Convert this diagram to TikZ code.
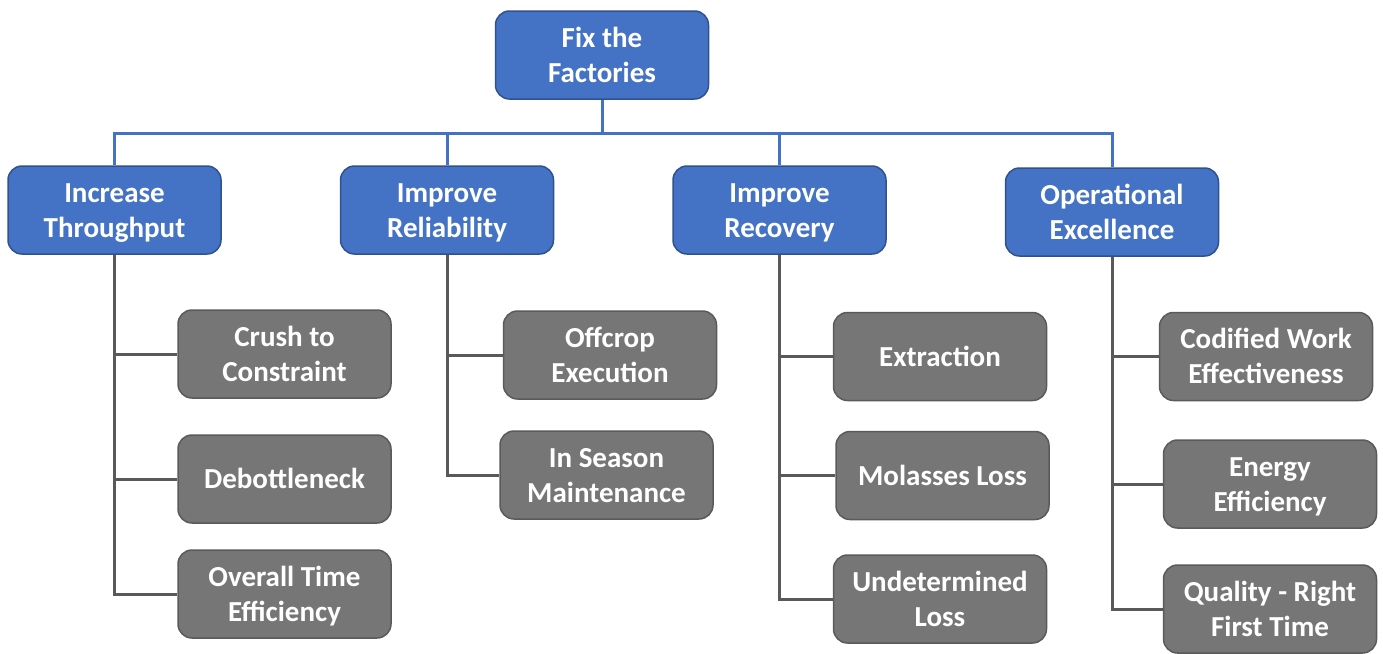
\documentclass[tikz,border=0pt]{standalone}
\usepackage{fontspec}
\setmainfont{Carlito}
\definecolor{bluefill}{HTML}{4472C4}
\definecolor{blueedge}{HTML}{2F528F}
\definecolor{grayfill}{HTML}{767676}
\definecolor{grayedge}{HTML}{5A5A5A}
\definecolor{grayline}{HTML}{595959}
\newcommand{\bxt}[1]{\begin{tabular}{@{}c@{}}\rule{0pt}{30pt}#1\end{tabular}}
\tikzset{
  base/.style={rectangle, rounded corners=14pt, minimum width=213pt, minimum height=88pt,
    text=white, font=\fontsize{29}{35}\selectfont\bfseries, line width=1.5pt, inner sep=0pt},
  bluebox/.style={base, fill=bluefill, draw=blueedge},
  graybox/.style={base, fill=grayfill, draw=grayedge},
  bluecon/.style={draw=bluefill, line width=3pt},
  graycon/.style={draw=grayline, line width=3pt},
}
\begin{document}
\begin{tikzpicture}[x=1pt,y=-1pt]
\useasboundingbox (0,0) rectangle (1383,653);
\node[bluebox] (root) at (602,55) {\bxt{Fix the\\Factories}};
\node[bluebox] (it) at (114.5,210) {\bxt{Increase\\Throughput}};
\node[bluebox] (ir) at (447,210) {\bxt{Improve\\Reliability}};
\node[bluebox] (rc) at (779.5,210) {\bxt{Improve\\Recovery}};
\node[bluebox] (oe) at (1112,212) {\bxt{Operational\\Excellence}};

\node[graybox] (c1) at (284.5,354) {\bxt{Crush to\\Constraint}};
\node[graybox] (c2) at (284.5,479) {\bxt{Debottleneck}};
\node[graybox] (c3) at (284.5,594) {\bxt{Overall Time\\Efficiency}};

\node[graybox] (r1) at (610,355) {\bxt{Offcrop\\Execution}};
\node[graybox] (r2) at (606.5,475) {\bxt{In Season\\Maintenance}};

\node[graybox] (e1) at (940,356.5) {\bxt{Extraction}};
\node[graybox] (e2) at (942.5,475.5) {\bxt{Molasses Loss}};
\node[graybox] (e3) at (940,599) {\bxt{Undetermined\\Loss}};

\node[graybox] (o1) at (1266,356.5) {\bxt{Codified Work\\Effectiveness}};
\node[graybox] (o2) at (1270,484) {\bxt{Energy\\Efficiency}};
\node[graybox] (o3) at (1270,609) {\bxt{Quality - Right\\First Time}};

\draw[bluecon] (root.south) -- (root.south |- 0,133) -| (it.north);
\draw[bluecon] (root.south |- 0,133) -| (oe.north);
\draw[bluecon] (ir.north) -- (ir.north |- 0,133);
\draw[bluecon] (rc.north) -- (rc.north |- 0,133);

\draw[graycon] (it.south) |- (c3.west);
\draw[graycon] (it.south |- c1.west) -- (c1.west);
\draw[graycon] (it.south |- c2.west) -- (c2.west);

\draw[graycon] (ir.south) |- (r2.west);
\draw[graycon] (ir.south |- r1.west) -- (r1.west);

\draw[graycon] (rc.south) |- (e3.west);
\draw[graycon] (rc.south |- e1.west) -- (e1.west);
\draw[graycon] (rc.south |- e2.west) -- (e2.west);

\draw[graycon] (oe.south) |- (o3.west);
\draw[graycon] (oe.south |- o1.west) -- (o1.west);
\draw[graycon] (oe.south |- o2.west) -- (o2.west);
\end{tikzpicture}
\end{document}
